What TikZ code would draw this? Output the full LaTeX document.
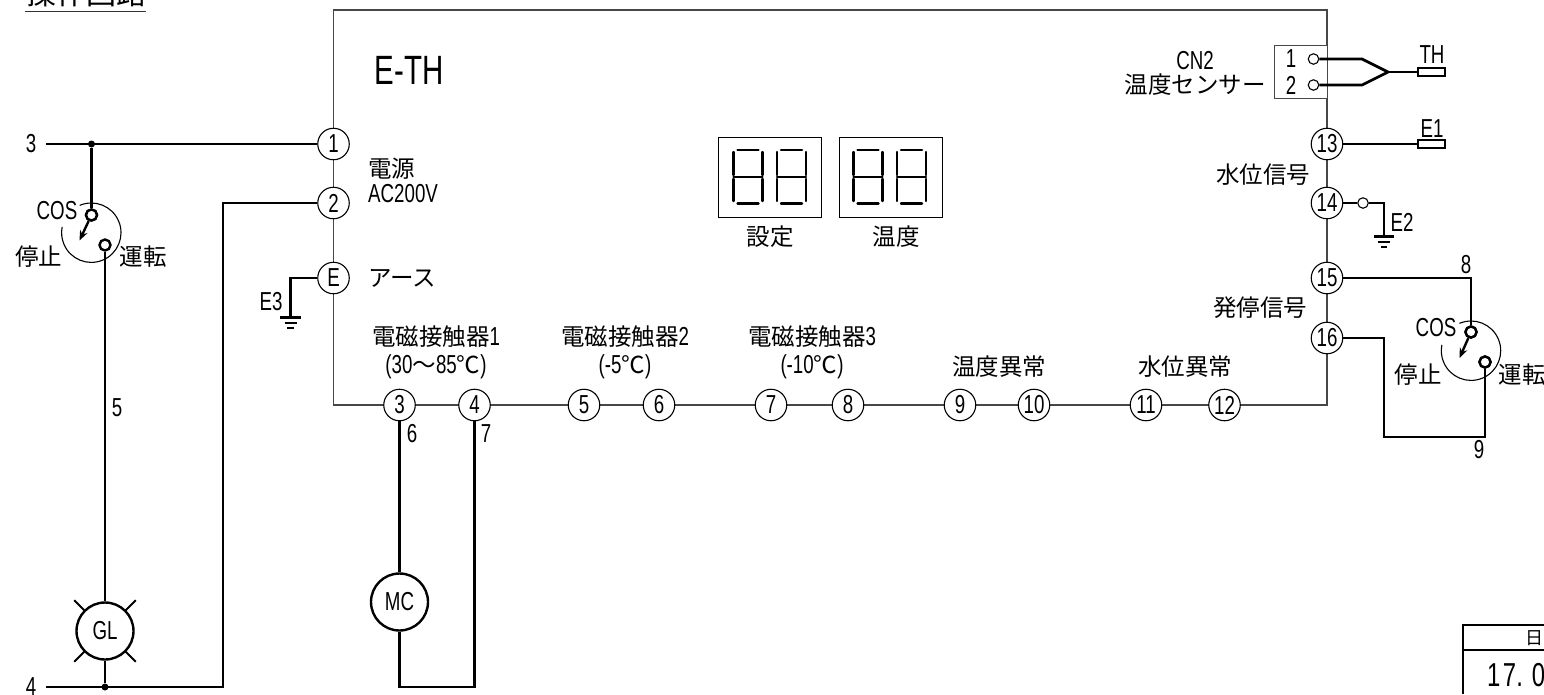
\documentclass[tikz,border=0pt]{standalone}
\usepackage{fontspec}
\usetikzlibrary{arrows.meta}
\setmainfont[Scale=1.106,FakeStretch=0.72]{Liberation Sans}
\newfontfamily\jpf{Noto Sans CJK JP}
\newcommand{\J}[1]{{\jpf #1}}
\tikzset{
  x=1pt,y=-1pt,
  lbl/.style={inner sep=0pt,font=\fontsize{23.5}{26}\selectfont,align=center},
  term/.style={circle,draw=black,line width=1.1pt,fill=white,minimum size=31.5pt,inner sep=0pt,font=\fontsize{23.5}{26}\selectfont},
  boxline/.style={draw=black!72,line width=1.3pt},
  wire/.style={draw=black,line width=2.7pt,line join=miter},
  thin wire/.style={draw=black,line width=1.1pt},
  contact/.style={circle,draw=black,line width=2.4pt,fill=white,minimum size=11pt,inner sep=0pt},
  smallcontact/.style={circle,draw=black,line width=1.1pt,fill=white,minimum size=10.5pt,inner sep=0pt},
  lamp/.style={circle,draw=black,line width=2.4pt,fill=white,minimum size=57pt,inner sep=0pt,font=\fontsize{23.5}{26}\selectfont},
  endpin/.style={rectangle,draw=black,line width=2pt,fill=white,minimum width=27pt,minimum height=8pt,inner sep=0pt},
  junct/.style={circle,fill=black,minimum size=7pt,inner sep=0pt},
  seg/.style={draw=black,line width=2.4pt,line cap=round},
  disp/.style={rectangle,draw=black,line width=1pt,minimum width=103pt,minimum height=80pt,inner sep=0pt},
  swarrow/.style={draw=black,line width=2.4pt,-{Stealth[length=10pt,width=8pt]}},
}
\newcommand{\digit}[2]{% x, name
  \draw[seg] (#1,152) -- (#1,175) (#1,179) -- (#1,201) (#1+29,152) -- (#1+29,175) (#1+29,179) -- (#1+29,201);
  \draw[seg] (#1+4,150) -- (#1+25,150) (#1,177) -- (#1+29,177) (#1+4,203.5) -- (#1+25,203.5);
}
\begin{document}
\begin{tikzpicture}
\useasboundingbox (0,0) rectangle (1544,694);
\fill[white] (0,0) rectangle (1544,694);
% title
\node[lbl,font=\fontsize{30}{32}\selectfont] (title) at (86,-7) {\J{操作回路}};
\draw[draw=black!80,line width=1.2pt] (25,11.5) -- (146,11.5);
% main box
\coordinate (bl) at (333.5,405);
\coordinate (tl) at (333.5,10);
\coordinate (tr) at (1327,10);
\coordinate (br) at (1327,405);
\draw[boxline] (bl) -- (tl) -- (tr) -- (br) -- cycle;
% CN2
\node[rectangle,draw=black!72,line width=1.1pt,fill=white,minimum width=52.5pt,minimum height=52.5pt,inner sep=0pt] (cn) at (1301,72) {};
\node[lbl] (cn1) at (1291,59) {1};
\node[lbl] (cn2) at (1291,85) {2};
\node[smallcontact] (c1) at (1313.5,59) {};
\node[smallcontact] (c2) at (1313.5,85) {};
% terminals
\foreach \n/\t/\x/\y in {t1/1/333.5/144,t2/2/333.5/203,tE/E/333.5/278,
  b3/3/399.5/405,b4/4/474.5/405,b5/5/584/405,b6/6/659/405,b7/7/771/405,b8/8/848/405,
  b9/9/960/405,b10/10/1034/405,b11/11/1146/405,b12/12/1224.5/405,
  r13/13/1327/144,r14/14/1327/203,r15/15/1327/278,r16/16/1327/338}
  \node[term] (\n) at (\x,\y) {\t};
% labels in the box
\node[lbl,font=\fontsize{37}{40}\selectfont] (eth) at (409,70) {E-TH};
\node[lbl,anchor=west] (dg) at (368,169) {\J{電源}};
\node[lbl,anchor=west] (ac) at (368,194) {AC200V};
\node[lbl,anchor=west] (ea) at (368,278) {\J{アース}};
\node[lbl] (m1) at (436,337) {\J{電磁接触器}1};
\node[lbl] (m1b) at (436,367) {(30\J{～}85\J{℃})};
\node[lbl] (m2) at (625,337) {\J{電磁接触器}2};
\node[lbl] (m2b) at (625,367) {(-5\J{℃})};
\node[lbl] (m3) at (812,337) {\J{電磁接触器}3};
\node[lbl] (m3b) at (812,367) {(-10\J{℃})};
\node[lbl] (o1) at (999,367) {\J{温度異常}};
\node[lbl] (o2) at (1185,367) {\J{水位異常}};
\node[lbl] (cnl) at (1195,61) {CN2};
\node[lbl] (cnt) at (1195,85) {\J{温度センサー}};
\node[lbl] (wl) at (1263,175) {\J{水位信号}};
\node[lbl] (hs) at (1260,308) {\J{発停信号}};
% displays
\node[disp] (d1) at (769.5,177) {};
\node[disp] (d2) at (890.5,177) {};
\digit{733.5}{a}\digit{777}{b}\digit{853.5}{c}\digit{897}{d}
\node[lbl] (sl) at (770,237) {\J{設定}};
\node[lbl] (tl2) at (896,237) {\J{温度}};
% left circuit
\node[lbl] (n3) at (31,144) {3};
\node[lbl] (n4) at (31,687) {4};
\coordinate (w3) at (46,144);
\coordinate (w4) at (46,687);
\node[junct] (j3) at (91.5,144) {};
\node[junct] (j4) at (105,687) {};
\node[lamp] (gl) at (105,631) {GL};
\node[contact] (k1) at (91.5,215) {};
\node[contact] (k2) at (105,245) {};
\coordinate (kt) at (79.5,240.5);
\coordinate (kc) at (91.3,232.7);
\draw[thin wire] (kc) ++(113:29.7pt) arc[start angle=113,end angle=-191.5,radius=29.7pt];
\draw[wire] (w3) -- (t1.west);
\draw[wire] (j3) -- (k1.north);
\draw[swarrow] (k1) -- (kt);
\node[contact] at (k1) {};
\draw[wire] (k2.south) -- (gl.north);
\draw[wire] (gl.south) -- (j4);
\draw[wire] (w4) -- (223,687) -- (223,203) -- (t2.west);
\foreach \a in {45,135,225,315}
  \draw[draw=black,line width=2pt] (gl) ++(\a:28.5pt) -- ++(\a:15pt);
\node[lbl] (cosl) at (57,211) {COS};
\node[lbl] (stl) at (39,257) {\J{停止}};
\node[lbl] (unl) at (143,257) {\J{運転}};
\node[lbl] (w5) at (117,408) {5};
% earth E3
\coordinate (g3) at (290.5,317);
\draw[wire] (tE.west) -| (g3);
\draw[wire] (280,317.5) -- (301,317.5);
\draw[line width=2pt] (284.5,322.5) -- (296.5,322.5);
\draw[line width=2pt] (287,327.5) -- (294,327.5);
\node[lbl] (e3) at (271,302) {E3};
% MC
\node[lamp] (mc) at (399.5,602) {MC};
\draw[wire] (b3.south) -- (mc.north);
\draw[wire] (mc.south) -- (399.5,687) -- (474.5,687) -- (b4.south);
\node[lbl] (n6) at (412,434) {6};
\node[lbl] (n7) at (486,434) {7};
% sensor
\node[endpin] (th) at (1431.5,72) {};
\node[endpin] (e1) at (1431.5,144) {};
\node[lbl] (thl) at (1432,55) {TH};
\node[lbl] (e1l) at (1432,129) {E1};
\coordinate (tj) at (1388,72);
\draw[wire] (c1.east) -- (1362,59) -- (tj);
\draw[wire] (c2.east) -- (1362,85) -- (tj);
\draw[wire] (tj) -- (th.west);
\draw[wire] (r13.east) -- (e1.west);
% E2
\node[smallcontact] (c14) at (1363,203) {};
\coordinate (g2) at (1384,236);
\draw[wire] (r14.east) -- (c14.west);
\draw[wire] (c14.east) -| (g2);
\draw[wire] (1374,236.5) -- (1394,236.5);
\draw[line width=2pt] (1378,241.5) -- (1390,241.5);
\draw[line width=2pt] (1381,246.5) -- (1387,246.5);
\node[lbl] (e2) at (1402,222) {E2};
% right switch
\node[contact] (s1) at (1471,332) {};
\node[contact] (s2) at (1485,362) {};
\coordinate (st) at (1459.5,358);
\coordinate (sc) at (1471,350.7);
\draw[thin wire] (sc) ++(113:29.7pt) arc[start angle=113,end angle=-191.5,radius=29.7pt];
\draw[wire] (r15.east) -| (s1.north);
\draw[swarrow] (s1) -- (st);
\node[contact] at (s1) {};
\draw[wire] (s2.south) -- (1485,437) -- (1384,437) -- (1384,338) -- (r16.east);
\node[contact] at (s2) {};
\node[lbl] (n8) at (1466,265) {8};
\node[lbl] (n9) at (1479,450) {9};
\node[lbl] (cosr) at (1436,328) {COS};
\node[lbl] (str) at (1418,375) {\J{停止}};
\node[lbl] (unr) at (1522,375) {\J{運転}};
% table corner
\draw[draw=black,line width=2.2pt] (1544,625) -- (1463,625) -- (1463,694);
\draw[draw=black,line width=1.1pt] (1463,650) -- (1544,650);
\node[lbl,font=\fontsize{18}{20}\selectfont] (tb1) at (1534,638) {\J{日}};
\node[lbl,anchor=west,font=\fontsize{30}{34}\selectfont] (tb2) at (1487,675) {1\hspace{2.5pt}7.\hspace{9pt}0};
\end{tikzpicture}
\end{document}
